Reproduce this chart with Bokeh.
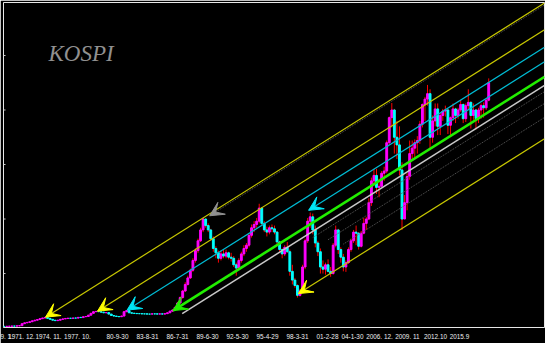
from bokeh.plotting import figure
from bokeh.models import Range1d, FixedTicker, Label, Arrow, VeeHead, ColumnDataSource
from bokeh.embed import file_html
from bokeh.resources import INLINE

# ---------------- data (quarterly bars, KOSPI) ----------------
start_year = 1969.75
quarter = 0.25

close = [15,
         16, 17, 18, 18,
         20, 22, 40, 48,
         52, 58, 66, 72,
         78, 86, 92, 97,
         88, 80, 72, 68,
         72, 80, 84, 88,
         90, 89, 92, 91,
         98, 96, 104, 106,
         118, 135, 150, 152,
         150, 146, 140, 142,
         128, 115, 110, 106,
         104, 110, 150, 160,
         140, 136, 134, 132,
         132, 130, 130, 128,
         128, 130, 130, 128,
         130, 128, 132, 140,
         155, 165, 190, 230,
         280, 340, 400, 460,
         530, 620, 710, 800,
         900, 1000, 940, 900,
         820, 730, 690, 640,
         680, 660, 690, 650,
         640, 580, 550, 620,
         680, 730, 760, 850,
         920, 950, 980, 1100,
         960, 900, 880, 920,
         910, 880, 790, 720,
         680, 740, 700, 520,
         440, 390, 300, 340,
         560, 800, 980, 1020,
         900, 780, 700, 560,
         540, 580, 520, 500,
         760, 900, 720, 650,
         560, 600, 720, 800,
         880, 870, 750, 870,
         960, 1000, 1150, 1350,
         1400, 1290, 1300, 1420,
         1440, 1700, 1930, 2000,
         1750, 1680, 1450, 1000,
         1150, 1390, 1600, 1650,
         1700, 1720, 1870, 2050,
         2100, 2150, 1750, 1900,
         2010, 1850, 1950, 1990,
         2000, 1860, 1930, 2010,
         1950, 2000, 2050, 1920,
         2040, 2070, 1950, 2000,
         1920, 2000, 2040, 2020,
         2090, 2250]

high = [17,
        18, 19, 20, 20,
        22, 24, 42, 50,
        55, 60, 68, 75,
        80, 88, 95, 100,
        99, 90, 82, 74,
        74, 82, 86, 90,
        92, 92, 94, 94,
        100, 100, 106, 110,
        122, 140, 154, 158,
        156, 152, 148, 146,
        144, 130, 118, 112,
        108, 114, 154, 165,
        162, 142, 138, 136,
        135, 134, 133, 132,
        131, 133, 133, 131,
        133, 131, 134, 143,
        158, 170, 195, 240,
        290, 350, 420, 480,
        545, 640, 730, 820,
        920, 1010, 1005, 960,
        910, 840, 750, 710,
        710, 720, 720, 700,
        690, 660, 600, 640,
        700, 760, 780, 870,
        950, 980, 1010, 1140,
        1110, 980, 930, 940,
        950, 940, 890, 800,
        730, 760, 790, 720,
        580, 460, 400, 360,
        580, 820, 1010, 1060,
        1050, 940, 800, 730,
        620, 600, 630, 560,
        780, 940, 910, 740,
        680, 620, 740, 820,
        900, 940, 880, 890,
        1010, 1020, 1190, 1380,
        1460, 1460, 1370, 1440,
        1480, 1720, 1940, 2064,
        2010, 1900, 1850, 1520,
        1220, 1420, 1720, 1720,
        1730, 1760, 1900, 2060,
        2120, 2230, 2190, 1950,
        2060, 2060, 1970, 2010,
        2040, 2010, 1940, 2060,
        2020, 2020, 2090, 2060,
        2060, 2190, 2080, 2060,
        2010, 2020, 2060, 2070,
        2100, 2290]

low = [13,
       14, 15, 16, 16,
       16, 18, 20, 38,
       45, 50, 56, 64,
       70, 76, 84, 90,
       86, 78, 70, 65,
       66, 70, 78, 82,
       86, 87, 88, 89,
       89, 94, 95, 102,
       104, 116, 132, 146,
       146, 142, 136, 138,
       124, 112, 106, 102,
       100, 102, 108, 146,
       136, 132, 131, 129,
       128, 127, 127, 125,
       125, 126, 127, 125,
       126, 125, 126, 130,
       138, 150, 162, 185,
       225, 270, 330, 390,
       450, 515, 600, 690,
       790, 880, 920, 880,
       800, 700, 640, 600,
       620, 640, 640, 630,
       610, 560, 480, 530,
       600, 660, 700, 740,
       830, 880, 920, 960,
       940, 880, 840, 860,
       880, 860, 770, 700,
       640, 660, 690, 480,
       400, 370, 280, 290,
       330, 540, 780, 920,
       860, 740, 660, 500,
       500, 490, 510, 470,
       490, 740, 680, 600,
       520, 515, 590, 700,
       780, 760, 720, 740,
       860, 900, 990, 1120,
       1300, 1230, 1200, 1300,
       1350, 1420, 1680, 1840,
       1600, 1550, 1400, 900,
       1000, 1080, 1360, 1550,
       1550, 1600, 1690, 1840,
       1900, 2040, 1650, 1700,
       1850, 1770, 1770, 1900,
       1940, 1780, 1770, 1900,
       1880, 1920, 1980, 1880,
       1890, 2000, 1830, 1910,
       1820, 1880, 1920, 1930,
       2000, 2080]

# x-axis date labels and their positions (decimal years)
tick_labels = ["9. 1.", "1971. 12.", "1974. 11.", "1977. 10.", "80-9-30", "83-8-31",
               "86-7-31", "89-6-30", "92-5-30", "95-4-29", "98-3-31", "01-2-28",
               "04-1-30", "2006. 12.", "2009. 11", "2012.10", "2015.9"]
tick_years = [1969.77, 1971.44, 1974.09, 1976.93, 1980.85, 1983.79,
              1986.74, 1989.68, 1992.62, 1995.56, 1998.5, 2001.44,
              2003.89, 2006.54, 2009.28, 2012.03, 2014.38]
value_ticks = [500, 1000, 1500, 2000, 2500]

# parallel trend lines: shared slope (index points / year) and anchor points
channel_slope = 58.9
yellow_t = [1973.8, 1978.9, 1998.6]
yellow_v = [100, 155, 316]
cyan_t = [1981.8, 1999.6]
cyan_v = [165, 1080]
green_t, green_v = 1986.3, 160
white_t, white_v = 1987.2, 133
gray_t, gray_v = 1989.9, 1030
dotted_t = [2000.0, 2001.5, 2003.0]
dotted_v = [830, 810, 770]

X0, X1 = 1969.68, 2022.72
Y0, Y1 = 5, 2986

# ---------------- build ----------------
n = len(close)
t = [start_year + quarter * i for i in range(n)]
opn = [close[0]] + close[:-1]
up = [c > o for o, c in zip(opn, close)]
src = ColumnDataSource(dict(
    t=t, o=opn, c=close, h=high, l=low,
    top=[max(o, c) for o, c in zip(opn, close)],
    bot=[min(o, c) for o, c in zip(opn, close)],
    col=["#FF00FF" if u else "#00FFFF" for u in up],
))

p = figure(width=545, height=343, x_range=Range1d(X0, X1), y_range=Range1d(Y0, Y1),
           output_backend="svg", toolbar_location=None,
           min_border_left=3, min_border_right=1, min_border_top=2, min_border_bottom=16,
           background_fill_color="black", border_fill_color="black",
           outline_line_color="#E6E6E6", outline_line_width=1)
p.grid.visible = False
p.yaxis.visible = False

# small inner tick marks on the left frame edge
p.segment(x0=[X0] * len(value_ticks), x1=[X0 + 0.2] * len(value_ticks),
          y0=value_ticks, y1=value_ticks, line_color="#C8C8C8", line_width=1)

# candles
p.segment(x0="t", y0="l", x1="t", y1="h", source=src, line_color="#FF0000", line_width=1)
p.vbar(x="t", top="top", bottom="bot", width=0.18, source=src,
       fill_color="col", line_color="col", line_width=1)


def ray(t0, v0):
    return [t0, X1], [v0, v0 + channel_slope * (X1 - t0)]


def add_arrow(t0, v0, color, size=14):
    p.add_layout(Arrow(end=VeeHead(size=size, fill_color=color, line_color=color, line_width=1),
                       x_start=t0 + 1.2, y_start=v0 + channel_slope * 1.2,
                       x_end=t0, y_end=v0, line_alpha=0))


for tt, vv in zip(dotted_t, dotted_v):
    xs, ys = ray(tt, vv)
    p.line(xs, ys, line_color="#5A5A5A", line_width=1, line_dash="1 1")

xs, ys = ray(gray_t, gray_v)
p.line(xs, ys, line_color="#5A5A5A", line_width=1, line_dash="1 1")

xs, ys = ray(white_t, white_v)
p.line(xs, ys, line_color="#C8C8C8", line_width=1.5)

for tt, vv in zip(yellow_t, yellow_v):
    xs, ys = ray(tt, vv)
    p.line(xs, ys, line_color="#C8C800", line_width=1.2)

for tt, vv in zip(cyan_t, cyan_v):
    xs, ys = ray(tt, vv)
    p.line(xs, ys, line_color="#00BCD4", line_width=1.2)

xs, ys = ray(green_t, green_v)
p.line(xs, ys, line_color="#22EE00", line_width=2.6)

for tt, vv in zip(yellow_t, yellow_v):
    add_arrow(tt, vv, "#FFFF00")
for tt, vv in zip(cyan_t, cyan_v):
    add_arrow(tt, vv, "#00E5F5")
add_arrow(green_t, green_v, "#22EE00")
add_arrow(gray_t, gray_v, "#909090")

# title text inside chart
p.add_layout(Label(x=1974.09, y=2518, text="KOSPI", text_font="Liberation Serif",
                   text_font_style="italic", text_font_size="23px", text_color="#909090",
                   text_baseline="alphabetic"))

# x axis: date labels only
p.xaxis.ticker = FixedTicker(ticks=tick_years)
p.xaxis.major_label_overrides = {k: v for k, v in zip(tick_years, tick_labels)}
p.xaxis.axis_line_color = None
p.xaxis.major_tick_line_color = None
p.xaxis.minor_tick_line_color = None
p.xaxis.major_tick_out = 0
p.xaxis.major_tick_in = 0
p.xaxis.major_label_standoff = 5
p.xaxis.major_label_text_font = "Liberation Sans"
p.xaxis.major_label_text_font_size = "6.4px"
p.xaxis.major_label_text_color = "#EEEEEE"

open("out.html", "w").write(file_html(p, INLINE))
